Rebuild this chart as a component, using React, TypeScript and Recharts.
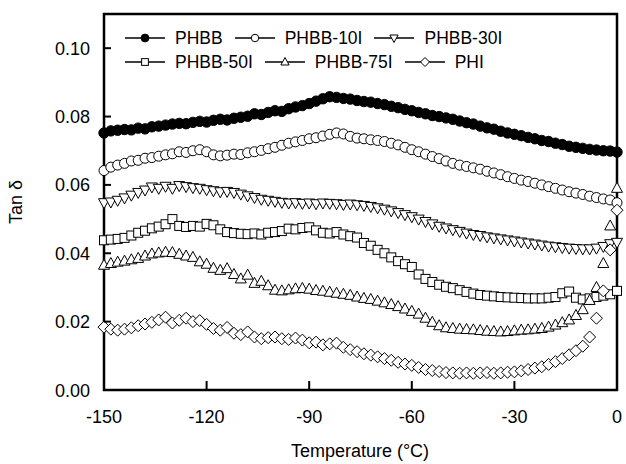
import React from 'react';
import { LineChart, Line, XAxis, YAxis, Legend, ReferenceArea } from 'recharts';

const temps = [
  -150, -148, -146, -144, -142, -140, -138, -136, -134, -132,
  -130, -128, -126, -124, -122, -120, -118, -116, -114, -112,
  -110, -108, -106, -104, -102, -100, -98, -96, -94, -92,
  -90, -88, -86, -84, -82, -80, -78, -76, -74, -72,
  -70, -68, -66, -64, -62, -60, -58, -56, -54, -52,
  -50, -48, -46, -44, -42, -40, -38, -36, -34, -32,
  -30, -28, -26, -24, -22, -20, -18, -16, -14, -12,
  -10, -8, -6, -4, -2, 0,
];

const phbb = [
  0.0752, 0.0758, 0.0760, 0.0762, 0.0761, 0.0766, 0.0764, 0.0770, 0.0772, 0.0775,
  0.0778, 0.0780, 0.0779, 0.0783, 0.0786, 0.0784, 0.0789, 0.0792, 0.0790, 0.0795,
  0.0798, 0.0801, 0.0808, 0.0806, 0.0812, 0.0817, 0.0815, 0.0823, 0.0828, 0.0832,
  0.0838, 0.0845, 0.0852, 0.0858, 0.0856, 0.0853, 0.0851, 0.0847, 0.0844, 0.0842,
  0.0838, 0.0835, 0.0830, 0.0826, 0.0821, 0.0817, 0.0812, 0.0808, 0.0803, 0.0800,
  0.0796, 0.0792, 0.0787, 0.0782, 0.0778, 0.0772, 0.0767, 0.0763, 0.0757, 0.0752,
  0.0748, 0.0744, 0.0739, 0.0735, 0.0730, 0.0727, 0.0722, 0.0718, 0.0713, 0.0710,
  0.0707, 0.0704, 0.0702, 0.0700, 0.0699, 0.0696,
];

const phbb10 = [
  0.0642, 0.0652, 0.0658, 0.0663, 0.0670, 0.0672, 0.0678, 0.0680, 0.0684, 0.0688,
  0.0691, 0.0697, 0.0695, 0.0700, 0.0703, 0.0697, 0.0688, 0.0685, 0.0687, 0.0690,
  0.0689, 0.0694, 0.0697, 0.0701, 0.0706, 0.0710, 0.0716, 0.0722, 0.0726, 0.0730,
  0.0735, 0.0738, 0.0743, 0.0748, 0.0752, 0.0749, 0.0742, 0.0737, 0.0735, 0.0732,
  0.0730, 0.0727, 0.0722, 0.0717, 0.0710, 0.0703, 0.0697, 0.0690, 0.0683, 0.0677,
  0.0670, 0.0663, 0.0658, 0.0654, 0.0650, 0.0646, 0.0640, 0.0635, 0.0630, 0.0624,
  0.0619, 0.0614, 0.0610, 0.0605, 0.0600, 0.0595, 0.0590, 0.0585, 0.0580, 0.0576,
  0.0572, 0.0567, 0.0563, 0.0559, 0.0556, 0.0548,
];

const phbb30 = [
  0.0548, 0.0550, 0.0555, 0.0562, 0.0570, 0.0578, 0.0585, 0.0594, 0.0590, 0.0596,
  0.0590, 0.0598, 0.0595, 0.0592, 0.0590, 0.0586, 0.0583, 0.0580, 0.0581, 0.0578,
  0.0573, 0.0568, 0.0563, 0.0558, 0.0555, 0.0552, 0.0549, 0.0547, 0.0548, 0.0546,
  0.0547, 0.0545, 0.0547, 0.0546, 0.0545, 0.0543, 0.0544, 0.0542, 0.0540, 0.0537,
  0.0533, 0.0529, 0.0524, 0.0519, 0.0513, 0.0507, 0.0500, 0.0493, 0.0486, 0.0479,
  0.0474, 0.0469, 0.0464, 0.0459, 0.0455, 0.0452, 0.0448, 0.0445, 0.0442, 0.0439,
  0.0436, 0.0433, 0.0430, 0.0427, 0.0424, 0.0421, 0.0419, 0.0417, 0.0415, 0.0414,
  0.0413, 0.0413, 0.0415, 0.0420, 0.0428, 0.0432,
];

const phbb50 = [
  0.0438, 0.0440, 0.0442, 0.0445, 0.0452, 0.0460, 0.0466, 0.0473, 0.0478, 0.0485,
  0.0500, 0.0480, 0.0477, 0.0480, 0.0478, 0.0486, 0.0482, 0.0470, 0.0462, 0.0459,
  0.0457, 0.0456, 0.0458, 0.0455, 0.0460, 0.0462, 0.0465, 0.0472, 0.0470, 0.0474,
  0.0476, 0.0467, 0.0460, 0.0458, 0.0462, 0.0455, 0.0450, 0.0446, 0.0430, 0.0422,
  0.0410, 0.0400, 0.0388, 0.0377, 0.0368, 0.0360, 0.0338, 0.0325, 0.0316, 0.0308,
  0.0302, 0.0298, 0.0292, 0.0287, 0.0282, 0.0278, 0.0276, 0.0274, 0.0272, 0.0271,
  0.0270, 0.0269, 0.0268, 0.0268, 0.0268, 0.0270, 0.0272, 0.0283, 0.0288, 0.0270,
  0.0265, 0.0268, 0.0272, 0.0276, 0.0280, 0.0290,
];

const phbb75 = [
  0.0365, 0.0370, 0.0374, 0.0377, 0.0381, 0.0385, 0.0392, 0.0398, 0.0401, 0.0403,
  0.0402, 0.0397, 0.0392, 0.0388, 0.0375, 0.0368, 0.0356, 0.0350, 0.0355, 0.0338,
  0.0325, 0.0336, 0.0312, 0.0318, 0.0305, 0.0292, 0.0290, 0.0293, 0.0296, 0.0297,
  0.0295, 0.0291, 0.0289, 0.0286, 0.0283, 0.0280, 0.0277, 0.0272, 0.0268, 0.0265,
  0.0260, 0.0255, 0.0250, 0.0244, 0.0237, 0.0230, 0.0222, 0.0210, 0.0198, 0.0188,
  0.0182, 0.0180, 0.0178, 0.0177, 0.0176, 0.0174, 0.0172, 0.0171, 0.0170, 0.0171,
  0.0173, 0.0175, 0.0176, 0.0178, 0.0180, 0.0184, 0.0190, 0.0197, 0.0205, 0.0218,
  0.0235, 0.0262, 0.0300, 0.0370, 0.0480, 0.0590,
];

const phi = [
  0.0184, 0.0178, 0.0175, 0.0178, 0.0182, 0.0188, 0.0193, 0.0198, 0.0205, 0.0213,
  0.0196, 0.0204, 0.0210, 0.0200, 0.0203, 0.0192, 0.0180, 0.0175, 0.0183, 0.0166,
  0.0162, 0.0170, 0.0155, 0.0150, 0.0153, 0.0155, 0.0150, 0.0148, 0.0152, 0.0146,
  0.0138, 0.0140, 0.0132, 0.0135, 0.0137, 0.0125, 0.0118, 0.0112, 0.0106, 0.0102,
  0.0097, 0.0092, 0.0087, 0.0081, 0.0076, 0.0072, 0.0066, 0.0060, 0.0057, 0.0054,
  0.0051, 0.0050, 0.0049, 0.0050, 0.0049, 0.0050, 0.0051, 0.0049, 0.0050, 0.0052,
  0.0053, 0.0056, 0.0060, 0.0064, 0.0068, 0.0075, 0.0083, 0.0092, 0.0103, 0.0115,
  0.0128, 0.0155, 0.0210, 0.0290, 0.0410, 0.0526,
];

const seriesNames = ['PHBB', 'PHBB-10I', 'PHBB-30I', 'PHBB-50I', 'PHBB-75I', 'PHI'];
const seriesKeys = ['phbb', 'phbb10', 'phbb30', 'phbb50', 'phbb75', 'phi'];
const seriesShapes = ['dot', 'circle', 'down', 'square', 'up', 'diamond'];

const xTicks = [-150, -120, -90, -60, -30, 0];
const yTicks = [0, 0.02, 0.04, 0.06, 0.08, 0.1];

const data = temps.map((t, i) => ({
  t,
  phbb: phbb[i],
  phbb10: phbb10[i],
  phbb30: phbb30[i],
  phbb50: phbb50[i],
  phbb75: phbb75[i],
  phi: phi[i],
}));

const FONT = '"Liberation Sans", Arial, sans-serif';

const Marker = ({ shape, x, y, s = 1 }: { shape: string; x: number; y: number; s?: number }) => {
  const common = { stroke: '#000', strokeWidth: 1, fill: '#fff' };
  switch (shape) {
    case 'dot':
      return <circle cx={x} cy={y} r={5.2 * s} fill="#000" stroke="#000" strokeWidth={1} />;
    case 'circle':
      return <circle cx={x} cy={y} r={5 * s} {...common} />;
    case 'square':
      return <rect x={x - 4.5 * s} y={y - 4.5 * s} width={9 * s} height={9 * s} {...common} />;
    case 'up':
      return <polygon points={`${x},${y - 6 * s} ${x + 5.5 * s},${y + 4 * s} ${x - 5.5 * s},${y + 4 * s}`} {...common} />;
    case 'down':
      return <polygon points={`${x},${y + 6 * s} ${x + 5.5 * s},${y - 4 * s} ${x - 5.5 * s},${y - 4 * s}`} {...common} />;
    default:
      return <polygon points={`${x},${y - 6 * s} ${x + 6 * s},${y} ${x},${y + 6 * s} ${x - 6 * s},${y}`} {...common} />;
  }
};

const makeDot = (shape: string) => (props: any) => {
  const { cx, cy, index } = props;
  if (cx == null || cy == null) return <g key={index} />;
  return (
    <g key={index}>
      <Marker shape={shape} x={cx} y={cy} />
    </g>
  );
};

const XTick = ({ x, y, payload }: any) => (
  <g>
    <line x1={x} x2={x} y1={y} y2={y - 9} stroke="#000" strokeWidth={2} />
    <text x={x} y={y + 33} textAnchor="middle" fontSize={18} fontFamily={FONT} fill="#000">
      {payload.value}
    </text>
  </g>
);

const YTick = ({ x, y, payload }: any) => (
  <g>
    <line x1={x} x2={x + 7} y1={y} y2={y} stroke="#000" strokeWidth={2} />
    <text x={x - 14} y={y + 6.5} textAnchor="end" fontSize={18} fontFamily={FONT} fill="#000">
      {Number(payload.value).toFixed(2)}
    </text>
  </g>
);

const XTitle = () => (
  <text x={360} y={457} textAnchor="middle" fontSize={18} fontFamily={FONT} fill="#000">
    Temperature (°C)
  </text>
);

const YTitle = () => (
  <text x={22} y={202} transform="rotate(-90, 22, 202)" textAnchor="middle" fontSize={18} fontFamily={FONT} fill="#000">
    Tan δ
  </text>
);

const LegendItem = ({ idx }: { idx: number }) => (
  <div style={{ display: 'flex', alignItems: 'center', marginRight: 12 }}>
    <svg width={40} height={14}>
      <line x1={0} x2={40} y1={7} y2={7} stroke="#000" strokeWidth={1.5} />
      <Marker shape={seriesShapes[idx]} x={20} y={7} s={0.75} />
    </svg>
    <span style={{ marginLeft: 10 }}>{seriesNames[idx]}</span>
  </div>
);

const renderLegend = () => (
  <div style={{ fontFamily: FONT, fontSize: 17.5, color: '#000', lineHeight: '24px' }}>
    <div style={{ display: 'flex' }}>
      {[0, 1, 2].map((i) => <LegendItem key={i} idx={i} />)}
    </div>
    <div style={{ display: 'flex' }}>
      {[3, 4, 5].map((i) => <LegendItem key={i} idx={i} />)}
    </div>
  </div>
);

export default function App() {
  return (
    <div style={{ position: 'absolute', left: 0, top: 0, width: 626, height: 464, background: '#fff' }}>
      <LineChart width={626} height={464} data={data} margin={{ top: 14, right: 9, bottom: 0, left: 0 }}>
        <XAxis
          type="number"
          dataKey="t"
          domain={[-150, 0]}
          ticks={xTicks}
          tickSize={0}
          tickMargin={0}
          tickLine={false}
          tick={<XTick />}
          axisLine={false}
          height={74}
          label={<XTitle />}
        />
        <YAxis
          type="number"
          domain={[0, 0.11]}
          ticks={yTicks}
          tickSize={0}
          tickMargin={0}
          tickLine={false}
          tick={<YTick />}
          axisLine={false}
          width={104}
          label={<YTitle />}
        />
        <ReferenceArea x1={-150} x2={0} y1={0} y2={0.11} fill="none" stroke="#000" strokeWidth={2.5} ifOverflow="visible" />
        {seriesKeys.map((k, i) => (
          <Line
            key={k}
            dataKey={k}
            stroke="none"
            strokeWidth={0}
            isAnimationActive={false}
            activeDot={false}
            dot={makeDot(seriesShapes[i])}
          />
        ))}
        <Legend
          verticalAlign="middle"
          align="center"
          content={renderLegend}
          wrapperStyle={{ position: 'absolute', top: 26, left: 125, width: 'auto', height: 'auto' }}
        />
      </LineChart>
    </div>
  );
}
